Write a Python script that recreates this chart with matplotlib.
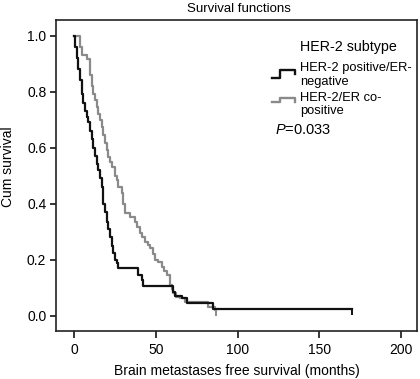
import numpy as np
import matplotlib
matplotlib.use("Agg")
from matplotlib import pyplot as plt
from matplotlib.lines import Line2D

plt.rcParams['font.family'] = ['Liberation Sans', 'DejaVu Sans']
plt.rcParams['mathtext.fontset'] = 'custom'
plt.rcParams['mathtext.it'] = 'Liberation Sans:italic'
plt.rcParams['mathtext.rm'] = 'Liberation Sans'

# HER-2 positive/ER-negative (black)
neg_time = [0, 0.5, 1.3, 2.3, 3.3, 4.4, 5.4, 6.4, 7.5, 8.5, 9.5, 10.5, 11.5, 12.6,
            13.6, 14.6, 15.7, 16.7, 17.7, 18.7, 19.7, 20.8, 21.8, 22.8, 23.8, 24.9,
            25.9, 26.9, 39.2, 41.2, 42.2, 60.6, 61.7, 65.8, 68.8, 85.2, 170]
neg_surv = [1.0, 0.96, 0.92, 0.88, 0.84, 0.79, 0.76, 0.73, 0.71, 0.69, 0.66, 0.63, 0.60, 0.57,
            0.54, 0.52, 0.49, 0.46, 0.40, 0.37, 0.336, 0.31, 0.28, 0.25, 0.223, 0.20,
            0.187, 0.17, 0.145, 0.128, 0.106, 0.086, 0.07, 0.062, 0.046, 0.023, 0.023]

# HER-2/ER co-positive (gray)
pos_time = [0, 3.4, 4.4, 7.5, 9.5, 10.5, 11.5, 12.6, 13.6, 14.6, 15.7, 16.7, 17.7, 18.7,
            19.7, 20.7, 21.8, 22.8, 24.9, 25.9, 27.0, 29.0, 30.0, 31.0, 34.0, 37.1, 38.6,
            40.2, 41.7, 43.3, 44.8, 46.3, 48.0, 49.4, 51.5, 53.5, 55.0, 56.6, 58.6, 59.6,
            60.6, 62.5, 65.0, 67.8, 82.0, 86.2, 87.0]
pos_surv = [1.0, 0.96, 0.93, 0.915, 0.86, 0.82, 0.79, 0.77, 0.745, 0.72, 0.70, 0.675, 0.645, 0.616,
            0.59, 0.568, 0.55, 0.532, 0.50, 0.485, 0.46, 0.437, 0.40, 0.366, 0.354, 0.336, 0.315,
            0.294, 0.28, 0.264, 0.252, 0.24, 0.22, 0.20, 0.19, 0.175, 0.16, 0.145, 0.11, 0.095,
            0.08, 0.068, 0.062, 0.05, 0.032, 0.02, 0.02]

x_ticks = [0, 50, 100, 150, 200]
y_ticks = [0.0, 0.2, 0.4, 0.6, 0.8, 1.0]

W, H = 420, 379
fig = plt.figure(figsize=(W / 100, H / 100), dpi=100)
ax = fig.add_axes([56 / W, 1 - 331 / H, (417 - 56) / W, (331 - 20) / H])

black = '#111111'
gray = '#8a8a8a'
ax.step(pos_time, pos_surv, where='post', color=gray, lw=1.6)
ax.step(neg_time, neg_surv, where='post', color=black, lw=1.6)
ax.plot(pos_time[-1], pos_surv[-1], marker=3, ms=4, mew=1.4, color=gray)
ax.plot(neg_time[-1], neg_surv[-1], marker=3, ms=4, mew=1.4, color=black)

ax.set_xlim(-11.3, 210)
ax.set_ylim(-0.055, 1.056)
ax.set_xticks(x_ticks)
ax.set_yticks(y_ticks)
ax.set_xticklabels([str(t) for t in x_ticks])
ax.set_yticklabels(['%.1f' % t for t in y_ticks])
ax.tick_params(direction='out', length=4, width=1.1, labelsize=10, pad=3)
ax.tick_params(axis='x', length=5, pad=4)
for spine in ax.spines.values():
    spine.set_linewidth(1.2)
    spine.set_color('#222222')

ax.set_xlabel('Brain metastases free survival (months)', fontsize=10, labelpad=5)
fig.text(8 / W, 1 - 167 / H, 'Cum survival', rotation=90, fontsize=10,
         ha='center', va='center')
fig.text(239 / W, 1 - 9 / H, 'Survival functions', fontsize=9.5, ha='center', va='center')

# legend
def px(x, y):
    return x / W, 1 - y / H

fig.text(*px(300, 46.7), 'HER-2 subtype', fontsize=10.3, va='center')
fig.text(*px(300, 68.3), 'HER-2 positive/ER-', fontsize=9.3, va='center')
fig.text(*px(300, 82.3), 'negative', fontsize=9.3, va='center')
fig.text(*px(300, 98.3), 'HER-2/ER co-', fontsize=9.3, va='center')
fig.text(*px(300, 110.7), 'positive', fontsize=9.3, va='center')
fig.text(*px(275, 130), r'$P$=0.033', fontsize=10.5, va='center')

icon_x = [271.7, 280, 280, 295, 295]
for ys, c in [([77.7, 77.7, 70, 70, 74], black), ([101.7, 101.7, 98.3, 98.3, 101.7], gray)]:
    xs = [x / W for x in icon_x]
    yy = [1 - y / H for y in ys]
    fig.add_artist(Line2D(xs, yy, color=c, lw=1.7, transform=fig.transFigure))

fig.savefig('out.png', dpi=100)
